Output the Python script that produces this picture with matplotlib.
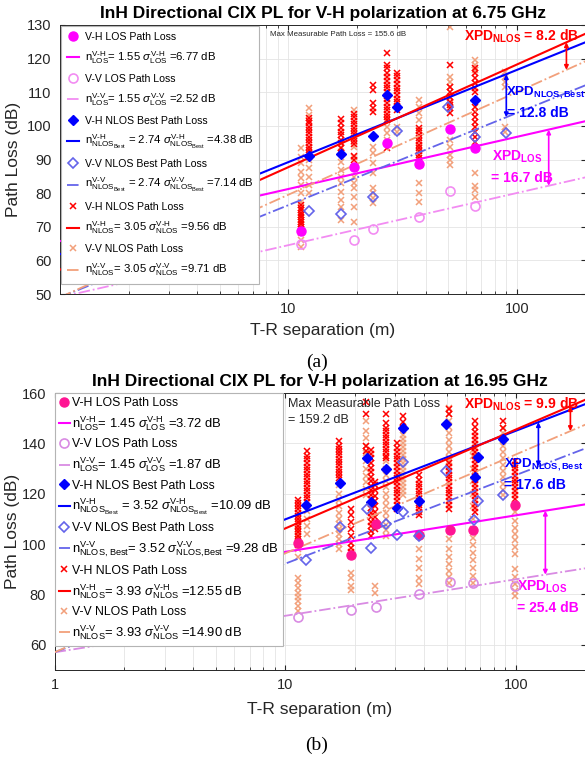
import numpy as np
import matplotlib.pyplot as plt
from matplotlib.lines import Line2D
from matplotlib.ticker import LogLocator, NullFormatter

plt.rcParams['font.family'] = ['Liberation Sans', 'DejaVu Sans']
plt.rcParams['mathtext.fontset'] = 'custom'
plt.rcParams['mathtext.rm'] = 'Liberation Sans'
plt.rcParams['mathtext.it'] = 'Liberation Sans:italic'
plt.rcParams['mathtext.bf'] = 'Liberation Sans:bold'

# ---------------- (a) 6.75 GHz ----------------
a_freq = 6.75e9
a_n = [1.55, 2.74, 3.05]          # LOS, NLOS best, NLOS
a_xpd = [16.7, 12.8, 8.2]
a_sig = ["6.77", "2.52", "4.38", "7.14", "9.56", "9.71"]

a_vh_los_d = [11.4, 19.3, 27.0, 37.3, 51.2, 65.4]
a_vh_los_pl = [68.7, 87.9, 95.0, 88.7, 99.1, 93.3]
a_vv_los_d = [11.4, 19.3, 23.4, 37.3, 51.2, 65.4]
a_vv_los_pl = [64.9, 66.1, 69.2, 72.8, 80.6, 76.2]
a_vh_best_d = [12.3, 17.0, 23.4, 27.0, 30.0, 65.4]
a_vh_best_pl = [91.0, 91.6, 97.1, 109.2, 105.5, 107.7]
a_vv_best_d = [12.3, 17.0, 23.4, 30.0, 50.0, 65.4, 89.5]
a_vv_best_pl = [74.8, 73.7, 78.7, 98.5, 105.5, 96.8, 97.8]

a_vh_nlos_d = [11.4, 12.3, 17.0, 19.3, 23.4, 27.0, 30.0, 37.3, 51.2, 65.4]
a_vh_nlos_pl = [
    [68.6, 69.3, 70.0, 70.7, 71.4, 72.1, 72.8, 73.5, 74.2, 74.9, 75.6, 76.5],
    [90.8, 91.8, 92.8, 93.8, 94.8, 95.8, 96.8, 97.8, 98.8, 99.8, 100.8, 101.5, 102.3],
    [91.8, 93.3, 94.8, 95.8, 97.3, 98.3, 99.3, 100.8, 102.0],
    [90.0, 91.0, 94.5, 95.5, 96.5, 97.5, 98.5, 99.5, 100.5, 101.5, 102.5, 103.5],
    [104.2, 105.2, 106.7, 110.7, 112.2],
    [93.3, 101.7, 102.6, 103.5, 104.6, 105.7, 106.8, 107.9, 109.0, 110.1, 111.2,
     112.3, 113.4, 114.5, 115.6, 117.1, 118.1, 121.8],
    [104.7, 105.9, 107.0, 108.1, 109.2, 110.3, 111.4, 112.5, 113.6, 114.7, 115.8],
    [89.4, 90.4, 91.4, 92.4, 93.4, 94.4, 95.4, 96.4, 97.4, 98.4, 99.4],
    [103.7, 105.2, 106.2, 107.2, 108.7, 110.2, 111.6, 118.1],
    [93.3, 95.3, 96.8, 98.3, 99.8, 101.2, 102.7, 104.2, 105.7, 110.2, 111.2, 112.7,
     114.1, 115.6, 117.1],
]
a_vv_nlos_d = [11.4, 12.3, 17.0, 19.3, 23.4, 27.0, 30.0, 37.3, 51.2, 65.4, 88.5]
a_vv_nlos_pl = [
    [64.1, 66.1, 68.0, 72.0, 77.5, 79.9, 82.4, 84.4, 86.4, 88.9, 90.8, 93.3],
    [79.9, 82.4, 84.9, 87.4, 89.9, 93.3, 103.2, 105.2],
    [72.0, 76.0, 78.0, 80.4, 82.9, 84.9, 86.9, 89.3, 91.8, 93.8],
    [71.5, 76.0, 78.9, 81.4, 82.9, 84.9, 87.9, 90.8, 93.8, 104.7],
    [77.0, 78.5, 79.9, 81.4, 85.9, 88.9, 91.8, 93.8],
    [95.8, 97.8, 99.8, 101.7],
    [98.3, 99.6],
    [77.5, 79.9, 82.9, 89.9, 93.8, 98.8, 101.7, 103.7, 105.7, 107.7],
    [88.4, 89.9, 91.3, 93.8, 95.8, 106.7, 108.2, 111.6, 113.1, 114.6, 129.5],
    [78.9, 80.9, 82.0, 85.9, 116.6, 118.1, 119.6],
    [98.3, 99.8, 111.6, 113.1, 114.6, 116.1],
]

# ---------------- (b) 16.95 GHz ----------------
b_freq = 16.95e9
b_n = [1.45, 3.52, 3.93]
b_xpd = [25.4, 17.6, 9.9]
b_sig = ["3.72", "1.87", "10.09", "9.28", "12.55", "14.90"]

b_vh_los_d = [11.4, 19.3, 24.8, 37.8, 51.6, 64.8, 98.6]
b_vh_los_pl = [100.4, 95.6, 108.1, 103.7, 105.6, 105.7, 115.7]
b_vv_los_d = [11.4, 19.3, 24.8, 37.8, 51.6, 64.8, 98.6]
b_vv_los_pl = [71.2, 73.9, 75.0, 80.2, 84.8, 84.6, 83.3]
b_vh_best_d = [12.3, 17.2, 22.5, 23.6, 27.2, 30.4, 32.5, 37.9, 49.8, 66.3, 68.1, 88.0]
b_vh_best_pl = [115.4, 124.3, 134.2, 116.9, 129.9, 114.2, 146.2, 117.2, 147.7, 126.8, 134.7, 141.6]
b_vv_best_d = [12.3, 17.2, 22.5, 23.6, 27.2, 30.4, 32.5, 32.5, 37.9, 49.8, 65.6, 68.1, 87.7]
b_vv_best_pl = [93.5, 106.8, 114.1, 98.6, 108.1, 103.6, 112.7, 132.7, 103.2, 129.1, 109.4, 117.2, 119.5]

b_vh_nlos_d = [11.4, 12.4, 17.1, 19.3, 22.4, 23.6, 24.6, 27.2, 30.4, 32.5, 37.8, 51.2, 66.5, 87.7, 98.7]
b_vh_nlos_pl = [
    [99.5, 100.8, 102.1, 103.4, 104.7, 106.0, 107.3, 108.6, 109.9, 111.2, 112.5, 113.8,
     115.1, 116.4, 117.5],
    [116.8, 118.2, 119.6, 121.0, 122.4, 123.8, 125.2, 126.6, 128.0, 129.4, 130.8, 132.2,
     133.6, 135.0, 136.8],
    [126.1, 127.4, 128.7, 130.0, 131.3, 132.6, 133.9, 135.2, 136.5, 137.8, 139.1, 140.9],
    [96.7, 98.6, 100.5, 103.2, 105.9, 108.6, 111.4, 114.1],
    [136.8, 138.8, 151.6, 156.3],
    [103.4, 105.2, 107.0, 108.8, 110.6, 112.4, 114.2, 116.0, 117.8, 119.6, 121.4, 123.2,
     125.0, 126.8, 128.6, 130.4, 132.2, 134.0, 135.8, 137.5],
    [106.0, 108.7, 110.8, 112.9, 115.0, 117.1, 119.2, 121.3, 123.4, 124.8],
    [134.2, 135.0, 136.4, 137.8, 139.2, 140.6, 142.0, 143.4, 144.8, 146.2, 148.2, 151.6],
    [114.1, 115.6, 117.1, 118.6, 120.1, 121.6, 123.1, 124.6, 126.1, 127.6, 129.1, 130.6,
     132.1, 133.6, 135.1, 136.6, 138.1, 140.2],
    [146.2, 148.5, 150.9],
    [111.4, 112.8, 114.2, 115.6, 117.0, 118.4, 119.8, 121.2, 122.6, 124.0, 125.4, 127.5],
    [114.1, 115.6, 117.1, 118.6, 120.1, 121.6, 123.1, 124.6, 126.1, 127.6, 129.1, 130.6,
     132.2, 151.6, 153.6],
    [112.7, 114.3, 115.9, 117.5, 119.1, 120.7, 122.3, 123.9, 125.5, 127.1, 128.7, 130.3,
     131.9, 133.5, 135.1, 136.7, 138.3, 139.9, 141.5, 143.1, 144.7, 146.3, 148.9],
    [146.2, 148.9],
    [118.1, 119.6, 121.1, 122.6, 124.1, 125.6, 127.1, 128.6, 130.1, 131.6, 132.8],
]
b_vv_nlos_d = [11.4, 12.4, 17.1, 19.3, 22.4, 24.6, 27.2, 32.5, 37.8, 51.2, 64.8, 87.7, 98.7]
b_vv_nlos_pl = [
    [73.5, 75.5, 77.3, 79.0, 80.6, 82.5, 84.5, 86.5, 95.0, 98.0, 100.5, 102.0, 104.0,
     105.5, 107.0, 108.7],
    [104.0, 107.0, 110.0, 113.0],
    [98.0, 100.0, 102.0, 104.0, 106.0, 108.0, 110.0, 112.5, 115.0, 117.5, 120.0, 123.4],
    [81.9, 83.5, 86.6, 88.5, 95.3],
    [119.4, 122.0, 124.5, 127.0, 130.0, 133.0, 136.0, 139.0, 142.0, 145.0, 148.9],
    [80.6, 83.3],
    [103.4, 105.5, 107.5, 110.0, 112.5, 115.0, 117.5, 120.0, 122.5, 125.0, 127.5, 130.0, 132.8],
    [119.4, 121.0, 122.6, 124.2, 125.8, 127.4, 129.0, 130.6, 132.2, 133.8, 135.4, 137.0,
     138.6, 140.2, 141.8, 143.4, 146.2],
    [84.0, 86.5, 90.6, 94.0, 98.0],
    [84.6, 87.0, 89.5, 92.0, 95.0, 98.0, 102.0, 132.8, 134.0, 136.5, 139.0, 141.5, 144.0,
     146.5, 149.0, 151.5, 154.2],
    [84.6, 87.5, 90.5, 93.5, 96.5, 99.5, 102.5, 106.0, 110.0, 115.0, 120.0, 125.0, 130.0,
     135.0, 137.5],
    [119.4, 121.5, 124.0, 126.5, 129.0, 131.5, 134.0, 136.5, 139.0, 141.5, 144.0, 146.2],
    [79.3, 81.5, 84.0, 87.0, 90.0, 96.0, 99.0, 101.5, 104.0, 106.5, 109.0, 112.7],
]


def fspl(f):
    return 20 * np.log10(4 * np.pi * f / 3e8)


def cix(f, n, xpd, d):
    return fspl(f) + 10 * n * np.log10(d) + xpd


def flat(ds, pls):
    x = [d for d, col in zip(ds, pls) for _ in col]
    y = [v for col in pls for v in col]
    return x, y


RED = '#FF0000'
SALMON = '#F2A07B'
BLUE = '#0000FF'
LBLUE = '#6464EA'
MAG = '#FF00FF'


def panel(ax, f, n, xpd, sig, los_vh, los_vv, best_vh, best_vv, nlos_vh, nlos_vv,
          c_los_vh, c_los_vv, labels, legfs, linefs, ms, legkw):
    d_line = np.array([1.0, 200.0])
    x, y = flat(*nlos_vv)
    ax.plot(x, y, 'x', color=SALMON, ms=ms * 0.62, mew=1.1, zorder=2)
    x, y = flat(*nlos_vh)
    ax.plot(x, y, 'x', color=RED, ms=ms * 0.62, mew=1.1, zorder=2)

    l_los_vh, = ax.plot(d_line, cix(f, n[0], xpd[0], d_line), '-', color=MAG, lw=1.5, zorder=3)
    l_los_vv, = ax.plot(d_line, cix(f, n[0], 0, d_line), '-.', color=c_los_vv, lw=1.3, zorder=3)
    l_best_vh, = ax.plot(d_line, cix(f, n[1], xpd[1], d_line), '-', color=BLUE, lw=1.5, zorder=3)
    l_best_vv, = ax.plot(d_line, cix(f, n[1], 0, d_line), '-.', color=LBLUE, lw=1.3, zorder=3)
    l_nlos_vh, = ax.plot(d_line, cix(f, n[2], xpd[2], d_line), '-', color=RED, lw=1.5, zorder=3)
    l_nlos_vv, = ax.plot(d_line, cix(f, n[2], 0, d_line), '-.', color=SALMON, lw=1.3, zorder=3)

    ax.plot(*los_vh, 'o', color=c_los_vh, ms=ms, zorder=4)
    ax.plot(*los_vv, 'o', mfc='none', mec=c_los_vv, mew=1.2, ms=ms, zorder=4)
    ax.plot(*best_vh, 'D', color=BLUE, ms=ms * 0.85, zorder=4)
    ax.plot(*best_vv, 'D', mfc='none', mec=LBLUE, mew=1.2, ms=ms * 0.85, zorder=4)

    h = [
        Line2D([], [], ls='none', marker='o', color=c_los_vh, ms=ms),
        l_los_vh,
        Line2D([], [], ls='none', marker='o', mfc='none', mec=c_los_vv, mew=1.2, ms=ms),
        l_los_vv,
        Line2D([], [], ls='none', marker='D', color=BLUE, ms=ms * 0.85),
        l_best_vh,
        Line2D([], [], ls='none', marker='D', mfc='none', mec=LBLUE, mew=1.2, ms=ms * 0.85),
        l_best_vv,
        Line2D([], [], ls='none', marker='x', color=RED, ms=ms * 0.62, mew=1.1),
        l_nlos_vh,
        Line2D([], [], ls='none', marker='x', color=SALMON, ms=ms * 0.62, mew=1.1),
        l_nlos_vv,
    ]
    leg = ax.legend(h, labels, loc='upper left', bbox_to_anchor=(0.0, 1.0),
                    fontsize=legfs, fancybox=False, framealpha=1,
                    edgecolor='#b4b4b4', **legkw)
    for i, t in enumerate(leg.get_texts()):
        if i % 2 == 1:
            t.set_fontsize(linefs)
    leg.get_frame().set_linewidth(0.8)
    leg.set_zorder(6)

    ax.set_xscale('log')
    ax.set_xlim(1, 200)
    ax.xaxis.set_minor_locator(LogLocator(base=10, subs=np.arange(2, 10)))
    ax.xaxis.set_minor_formatter(NullFormatter())
    ax.grid(True, which='both', axis='x', color='#e4e4e4', lw=0.6)
    ax.grid(True, which='major', axis='y', color='#e4e4e4', lw=0.6)
    ax.set_axisbelow(True)
    ax.tick_params(which='both', direction='in', top=True, right=True,
                   labelsize=10.5, colors='#262626', pad=6)
    ax.tick_params(which='major', length=3.5)
    ax.tick_params(which='minor', length=2)
    for s in ax.spines.values():
        s.set_color('#262626')
        s.set_linewidth(0.7)


def xpd_arrow(ax, f, n, xpd, d, color):
    ax.annotate('', xy=(d, cix(f, n, 0, d)), xytext=(d, cix(f, n, xpd, d)),
                arrowprops=dict(arrowstyle='<|-|>', color=color, lw=1.2,
                                mutation_scale=6, shrinkA=0, shrinkB=0), zorder=5)


VH = r'\text{V-H}'
VV = r'\text{V-V}'
L = r'\text{LOS}'
NB = r'\text{NLOS}_{\text{Best}}'
N = r'\text{NLOS}'

a_labels = [
    'V-H LOS Path Loss',
    rf'n$^{{{VH}}}_{{{L}}}$= {a_n[0]} $\sigma^{{{VH}}}_{{{L}}}$ ={a_sig[0]} dB',
    'V-V LOS Path Loss',
    rf'n$^{{{VV}}}_{{{L}}}$= {a_n[0]} $\sigma^{{{VV}}}_{{{L}}}$ ={a_sig[1]} dB',
    'V-H NLOS Best Path Loss',
    rf'n$^{{{VH}}}_{{{NB}}}$ = {a_n[1]} $\sigma^{{{VH}}}_{{{NB}}}$ ={a_sig[2]} dB',
    'V-V NLOS Best Path Loss',
    rf'n$^{{{VV}}}_{{{NB}}}$ = {a_n[1]} $\sigma^{{{VV}}}_{{{NB}}}$ ={a_sig[3]} dB',
    'V-H NLOS Path Loss',
    rf'n$^{{{VH}}}_{{{N}}}$= {a_n[2]} $\sigma^{{{VH}}}_{{{N}}}$ ={a_sig[4]} dB',
    'V-V NLOS Path Loss',
    rf'n$^{{{VV}}}_{{{N}}}$= {a_n[2]} $\sigma^{{{VV}}}_{{{N}}}$ ={a_sig[5]} dB',
]
NB2 = r'\text{NLOS, Best}'
NB3 = r'\text{NLOS,Best}'
b_labels = [
    'V-H LOS Path Loss',
    rf'n$^{{{VH}}}_{{{L}}}$= {b_n[0]} $\sigma^{{{VH}}}_{{{L}}}$ ={b_sig[0]} dB',
    'V-V LOS Path Loss',
    rf'n$^{{{VV}}}_{{{L}}}$= {b_n[0]} $\sigma^{{{VV}}}_{{{L}}}$ ={b_sig[1]} dB',
    'V-H NLOS Best Path Loss',
    rf'n$^{{{VH}}}_{{{NB}}}$ = {b_n[1]} $\sigma^{{{VH}}}_{{{NB}}}$ ={b_sig[2]} dB',
    'V-V NLOS Best Path Loss',
    rf'n$^{{{VV}}}_{{{NB2}}}$= {b_n[1]} $\sigma^{{{VV}}}_{{{NB3}}}$ ={b_sig[3]} dB',
    'V-H NLOS Path Loss',
    rf'n$^{{{VH}}}_{{{N}}}$= {b_n[2]} $\sigma^{{{VH}}}_{{{N}}}$ ={b_sig[4]} dB',
    'V-V NLOS Path Loss',
    rf'n$^{{{VV}}}_{{{N}}}$= {b_n[2]} $\sigma^{{{VV}}}_{{{N}}}$ ={b_sig[5]} dB',
]

fig = plt.figure(figsize=(5.85, 7.58), dpi=100)
W, H = 585, 758
ax1 = fig.add_axes([60 / W, 1 - 294 / H, 525.5 / W, 269 / H])
ax2 = fig.add_axes([54.5 / W, 1 - 670 / H, 531 / W, 277 / H])

# panel (a)
panel(ax1, a_freq, a_n, a_xpd, a_sig,
      (a_vh_los_d, a_vh_los_pl), (a_vv_los_d, a_vv_los_pl),
      (a_vh_best_d, a_vh_best_pl), (a_vv_best_d, a_vv_best_pl),
      (a_vh_nlos_d, a_vh_nlos_pl), (a_vv_nlos_d, a_vv_nlos_pl),
      MAG, '#F28CF2', a_labels, 7.6, 8.2, 6.5,
      dict(borderaxespad=0.12, handlelength=1.2, handletextpad=0.55,
           labelspacing=0.72, borderpad=0.5))
ax1.set_ylim(50, 130)
ax1.set_yticks(np.arange(50, 131, 10))
ax1.set_xticks([10, 100])
ax1.set_xticklabels(['10', '100'])
ax1.set_xlabel('T-R separation (m)', fontsize=12.5, color='#262626', labelpad=5)
ax1.set_ylabel('Path Loss (dB)', fontsize=12.5, color='#262626', labelpad=4)
ax1.set_title('InH Directional CIX PL for V-H polarization at 6.75 GHz',
              fontsize=12.5, fontweight='bold', pad=5)
ax1.text(8.3, 126.7, 'Max Measurable Path Loss = 155.6 dB', fontsize=5.7, color='#262626')
xpd_arrow(ax1, a_freq, a_n[2], a_xpd[2], 165, RED)
xpd_arrow(ax1, a_freq, a_n[1], a_xpd[1], 90, BLUE)
xpd_arrow(ax1, a_freq, a_n[0], a_xpd[0], 138, MAG)
ax1.text(58.6, 125.5, r'XPD$_\mathbf{NLOS}$ = 8.2 dB', color=RED, fontsize=10, fontweight='bold')
ax1.text(90.0, 109.2, r'XPD$_\mathbf{NLOS,Best}$', color=BLUE, fontsize=9.5, fontweight='bold')
ax1.text(91.0, 102.6, '= 12.8 dB', color=BLUE, fontsize=10, fontweight='bold')
ax1.text(77.7, 89.8, r'XPD$_\mathbf{LOS}$', color=MAG, fontsize=10, fontweight='bold')
ax1.text(77.0, 83.3, '= 16.7 dB', color=MAG, fontsize=10, fontweight='bold')

# panel (b)
panel(ax2, b_freq, b_n, b_xpd, b_sig,
      (b_vh_los_d, b_vh_los_pl), (b_vv_los_d, b_vv_los_pl),
      (b_vh_best_d, b_vh_best_pl), (b_vv_best_d, b_vv_best_pl),
      (b_vh_nlos_d, b_vh_nlos_pl), (b_vv_nlos_d, b_vv_nlos_pl),
      '#FF1493', '#D98BE3', b_labels, 8.8, 9.4, 6.5,
      dict(borderaxespad=0.0, handlelength=0.9, handletextpad=0.15,
           labelspacing=0.43, borderpad=0.35))
ax2.set_ylim(50, 160)
ax2.set_yticks(np.arange(60, 161, 20))
ax2.set_xticks([1, 10, 100])
ax2.set_xticklabels(['1', '10', '100'])
ax2.set_xlabel('T-R separation (m)', fontsize=12.5, color='#262626', labelpad=7)
ax2.set_ylabel('Path Loss (dB)', fontsize=12.5, color='#262626', labelpad=1)
ax2.set_title('InH Directional CIX PL for V-H polarization at 16.95 GHz',
              fontsize=12.5, fontweight='bold', pad=5)
ax2.text(10.3, 154.4, 'Max Measurable Path Loss', fontsize=9, color='#262626')
ax2.text(10.3, 148.1, '= 159.2 dB', fontsize=9, color='#262626')
xpd_arrow(ax2, b_freq, b_n[2], b_xpd[2], 172, RED)
xpd_arrow(ax2, b_freq, b_n[1], b_xpd[1], 125, BLUE)
xpd_arrow(ax2, b_freq, b_n[0], b_xpd[0], 134, MAG)
ax2.text(59.5, 154.0, r'XPD$_\mathbf{NLOS}$ = 9.9 dB', color=RED, fontsize=10, fontweight='bold')
ax2.text(89.0, 130.6, r'XPD$_\mathbf{NLOS,Best}$', color=BLUE, fontsize=9.5, fontweight='bold')
ax2.text(88.5, 121.9, '= 17.6 dB', color=BLUE, fontsize=10, fontweight='bold')
ax2.text(100.5, 81.4, r'XPD$_\mathbf{LOS}$', color=MAG, fontsize=10, fontweight='bold')
ax2.text(100.5, 73.1, '= 25.4 dB', color=MAG, fontsize=10, fontweight='bold')

fig.text(317 / W, 1 - 362 / H, '(a)', family='Liberation Serif', fontsize=14,
         ha='center', va='center')
fig.text(317 / W, 1 - 745 / H, '(b)', family='Liberation Serif', fontsize=14,
         ha='center', va='center')

fig.savefig('out.png', dpi=100)
